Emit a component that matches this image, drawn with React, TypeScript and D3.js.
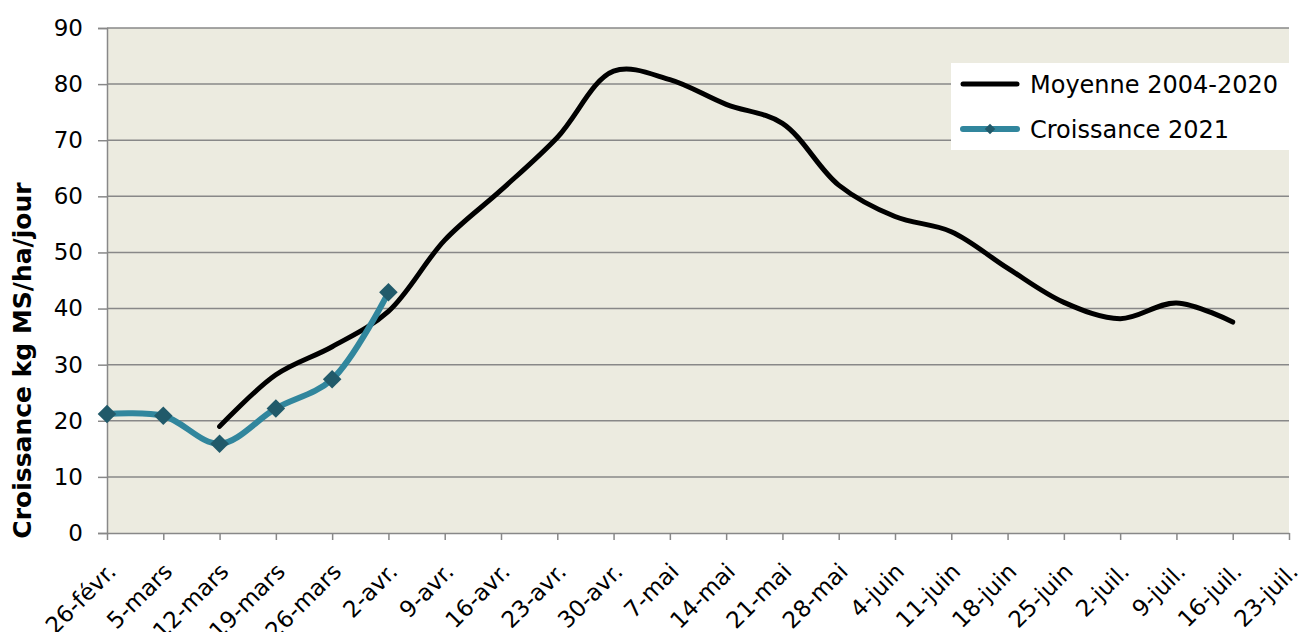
import React, { useRef, useEffect } from 'react';
import * as d3 from 'd3';

// week labels (x axis)
const weeks = [
  '26-févr.', '5-mars', '12-mars', '19-mars', '26-mars', '2-avr.', '9-avr.',
  '16-avr.', '23-avr.', '30-avr.', '7-mai', '14-mai', '21-mai', '28-mai',
  '4-juin', '11-juin', '18-juin', '25-juin', '2-juil.', '9-juil.', '16-juil.', '23-juil.'
];

// Moyenne 2004-2020
const moyenne: (number | null)[] = [
  null, null, 19, 28.2, 33.2, 39.5, 52.2, 61.1, 70.5, 82.3, 80.8, 76.4,
  73, 62, 56.4, 53.7, 47.2, 41.1, 38.2, 41, 37.6, null
];

// Croissance 2021
const croissance: (number | null)[] = [
  21.2, 20.9, 15.9, 22.2, 27.4, 42.9, null, null, null, null, null, null,
  null, null, null, null, null, null, null, null, null, null
];

const yTicks = [0, 10, 20, 30, 40, 50, 60, 70, 80, 90];

const seriesNames = ['Moyenne 2004-2020', 'Croissance 2021'];

function GrowthChart() {
  const svgRef = useRef<SVGSVGElement | null>(null);

  useEffect(() => {
    const width = 1300;
    const height = 632;
    const margin = { top: 28, right: 11, bottom: 99, left: 107 };
    const font = 'Verdana, "DejaVu Sans", sans-serif';

    const svg = d3.select(svgRef.current).attr('width', width).attr('height', height);
    svg.selectAll('*').remove();

    const x = d3.scaleLinear()
      .domain([0, weeks.length - 1])
      .range([margin.left, width - margin.right]);

    const y = d3.scaleLinear()
      .domain([0, 90])
      .range([height - margin.bottom, margin.top]);

    // plot background
    svg.append('rect')
      .attr('x', x(0))
      .attr('y', y(90))
      .attr('width', x(weeks.length - 1) - x(0))
      .attr('height', y(0) - y(90))
      .attr('fill', '#ecebe0');

    // gridlines
    svg.append('g')
      .selectAll('line')
      .data(yTicks.filter(t => t > 0))
      .enter()
      .append('line')
      .attr('x1', x(0))
      .attr('x2', x(weeks.length - 1))
      .attr('y1', d => y(d))
      .attr('y2', d => y(d))
      .attr('stroke', '#888888')
      .attr('stroke-width', 1.5);

    // y axis
    const yAxis = svg.append('g')
      .attr('transform', `translate(${x(0)}, 0)`)
      .call(d3.axisLeft(y).tickValues(yTicks).tickSize(9).tickPadding(15));
    yAxis.select('.domain').attr('stroke', '#888888').attr('stroke-width', 1.5);
    yAxis.selectAll('.tick line').attr('stroke', '#888888').attr('stroke-width', 1.5);
    yAxis.selectAll('.tick text')
      .attr('fill', '#000')
      .style('font-family', font)
      .style('font-size', '23px');

    // x axis
    const xAxis = svg.append('g')
      .attr('transform', `translate(0, ${y(0)})`)
      .call(
        d3.axisBottom(x)
          .tickValues(d3.range(weeks.length))
          .tickFormat(i => weeks[i as number])
          .tickSize(7)
          .tickSizeOuter(0)
      );
    xAxis.select('.domain').attr('stroke', '#888888').attr('stroke-width', 1.5);
    xAxis.selectAll('.tick line').attr('stroke', '#888888').attr('stroke-width', 1.5);
    xAxis.selectAll('.tick text')
      .attr('fill', '#000')
      .attr('text-anchor', 'end')
      .attr('dy', null)
      .attr('y', null)
      .attr('transform', 'translate(10, 40) rotate(-45)')
      .style('font-family', font)
      .style('font-size', '23px');

    // y axis title
    svg.append('text')
      .attr('transform', `translate(31, ${(y(0) + y(90)) / 2 + 80}) rotate(-90)`)
      .attr('text-anchor', 'middle')
      .style('font-family', font)
      .style('font-size', '25px')
      .style('font-weight', 'bold')
      .text('Croissance kg MS/ha/jour');

    const line = d3.line<number | null>()
      .defined(d => d !== null)
      .x((d, i) => x(i))
      .y(d => y(d as number))
      .curve(d3.curveCatmullRom.alpha(0.5));

    // Moyenne line
    svg.append('path')
      .datum(moyenne)
      .attr('d', line)
      .attr('fill', 'none')
      .attr('stroke', '#000')
      .attr('stroke-width', 5)
      .attr('stroke-linecap', 'round');

    // Croissance line
    svg.append('path')
      .datum(croissance)
      .attr('d', line)
      .attr('fill', 'none')
      .attr('stroke', '#31869d')
      .attr('stroke-width', 6)
      .attr('stroke-linecap', 'round');

    const diamond = d3.symbol().type(d3.symbolDiamond2).size(220);

    svg.append('g')
      .selectAll('path')
      .data(croissance.map((v, i) => ({ v, i })).filter(d => d.v !== null))
      .enter()
      .append('path')
      .attr('d', diamond)
      .attr('transform', d => `translate(${x(d.i)}, ${y(d.v as number)})`)
      .attr('fill', '#215a6a');

    // legend
    const legend = svg.append('g').attr('transform', 'translate(951, 63)');
    legend.append('rect')
      .attr('width', 338)
      .attr('height', 87)
      .attr('fill', '#fff');

    seriesNames.forEach((name, i) => {
      const ly = 21 + i * 45;
      legend.append('line')
        .attr('x1', 12)
        .attr('x2', 66)
        .attr('y1', ly)
        .attr('y2', ly)
        .attr('stroke', i === 0 ? '#000' : '#31869d')
        .attr('stroke-width', i === 0 ? 5 : 6)
        .attr('stroke-linecap', 'round');
      if (i === 1) {
        legend.append('path')
          .attr('d', d3.symbol().type(d3.symbolDiamond2).size(70))
          .attr('transform', `translate(39, ${ly})`)
          .attr('fill', '#215a6a');
      }
      legend.append('text')
        .attr('x', 79)
        .attr('y', ly + 9)
        .style('font-family', font)
        .style('font-size', '24px')
        .attr('fill', '#000')
        .text(name);
    });
  }, []);

  return <svg ref={svgRef} style={{ position: 'absolute', left: 0, top: 0 }}></svg>;
}

export default function App() {
  return <GrowthChart />;
}
